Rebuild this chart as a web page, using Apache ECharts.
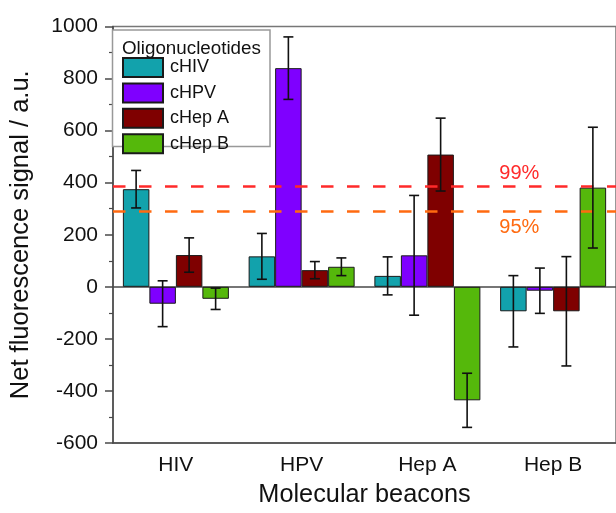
<!DOCTYPE html>
<html>
<head>
<meta charset="utf-8">
<script src="https://cdn.jsdelivr.net/npm/echarts@6/dist/echarts.min.js"></script>
<style>
html,body{margin:0;padding:0;background:#fff;}
#chart{width:616px;height:513px;}
</style>
</head>
<body>
<div id="chart"></div>
<script>
// ---- data ----
var categories = ['HIV', 'HPV', 'Hep A', 'Hep B'];
var seriesNames = ['cHIV', 'cHPV', 'cHep A', 'cHep B'];
var cHIV  = [375, 117, 42, -94];
var cHPV  = [-65, 840, 121, -15];
var cHepA = [122, 64, 508, -94];
var cHepB = [-46, 77, -436, 381];
var errHIV  = [72, 88, 73, 137];
var errHPV  = [88, 120, 230, 87];
var errHepA = [66, 33, 140, 210];
var errHepB = [41, 34, 104, 232];
var thresholdValues = [386, 290];
var thresholdLabels = ['99%', '95%'];
var yTicks = { min: -600, max: 1000, interval: 200 };

// ---- styles ----
var colors = ['#12a2ac', '#7f00ff', '#7f0000', '#55b80b'];
var thresholdColors = ['#ff2a2a', '#ff6a10'];
var FONT = 'Liberation Sans, Arial, sans-serif';
var BAR_W = 26.5;

var values = [cHIV, cHPV, cHepA, cHepB];
var errs = [errHIV, errHPV, errHepA, errHepB];

var series = [];
values.forEach(function (vals, k) {
  var s = {
    name: seriesNames[k],
    type: 'bar',
    xAxisIndex: 0,
    barWidth: BAR_W,
    barGap: '0%',
    data: vals,
    itemStyle: { color: colors[k], borderColor: '#1a1a1a', borderWidth: 1 },
    z: 2
  };
  if (k === 0) {
    s.markLine = {
      silent: true,
      symbol: 'none',
      label: { show: false },
      lineStyle: { type: [12.5, 13.5], width: 2.5 },
      data: thresholdValues.map(function (v, i) {
        return { yAxis: v, lineStyle: { color: thresholdColors[i], type: [12.5, 13.5], width: 2.5 } };
      })
    };
    s.markPoint = {
      silent: true,
      symbol: 'circle',
      symbolSize: 0,
      data: thresholdValues.map(function (v, i) {
        return {
          coord: [3, v],
          label: {
            show: true,
            formatter: thresholdLabels[i],
            position: 'inside',
            offset: [6, i === 0 ? -13 : 16],
            color: thresholdColors[i],
            fontSize: 20,
            fontFamily: FONT
          }
        };
      })
    };
  }
  series.push(s);
});

errs.forEach(function (er, k) {
  series.push({
    type: 'custom',
    xAxisIndex: 0,
    silent: true,
    z: 5,
    data: values[k].map(function (v, i) { return [i, v - er[i], v + er[i]]; }),
    renderItem: function (params, api) {
      var idx = api.value(0);
      var lo = api.coord([idx, api.value(1)]);
      var hi = api.coord([idx, api.value(2)]);
      var x = lo[0] + (k - 1.5) * BAR_W;
      var cap = 5;
      var st = { stroke: '#111', lineWidth: 1.6 };
      return {
        type: 'group',
        children: [
          { type: 'line', shape: { x1: x, y1: lo[1], x2: x, y2: hi[1] }, style: st },
          { type: 'line', shape: { x1: x - cap, y1: lo[1], x2: x + cap, y2: lo[1] }, style: st },
          { type: 'line', shape: { x1: x - cap, y1: hi[1], x2: x + cap, y2: hi[1] }, style: st }
        ]
      };
    }
  });
});

var axisColor = '#4a4a4a';

var option = {
  animation: false,
  backgroundColor: '#fff',
  textStyle: { fontFamily: FONT },
  grid: {
    left: 111, top: 26.5, width: 513.75, height: 418.5,
    show: true, borderColor: '#777', borderWidth: 1.5, backgroundColor: 'transparent'
  },
  title: {
    text: 'Oligonucleotides',
    left: 117, top: 34,
    textStyle: { fontSize: 18.8, fontWeight: 'normal', color: '#111', fontFamily: FONT }
  },
  legend: {
    data: seriesNames,
    orient: 'vertical',
    left: 122, top: 57,
    itemWidth: 40, itemHeight: 19, itemGap: 4.4,
    icon: 'rect',
    padding: 0,
    textStyle: { fontSize: 18, color: '#111', fontFamily: FONT, padding: [0, 0, 0, 2] }
  },
  graphic: [{
    type: 'rect',
    z: 3,
    shape: { x: 112.5, y: 30, width: 157.5, height: 116.5 },
    style: { fill: '#fff', stroke: '#999', lineWidth: 1.5 }
  }],
  xAxis: [{
    type: 'category',
    data: categories,
    position: 'bottom',
    axisLine: { onZero: false, lineStyle: { color: axisColor, width: 1.5 } },
    axisTick: { alignWithLabel: true, length: 8, lineStyle: { color: axisColor, width: 1.5 } },
    axisLabel: { fontSize: 21, color: '#111', margin: 12, fontFamily: FONT },
    name: 'Molecular beacons',
    nameLocation: 'middle',
    nameGap: 40,
    nameTextStyle: { fontSize: 25.3, color: '#111', fontFamily: FONT },
    splitLine: { show: false }
  }, {
    type: 'category',
    data: categories,
    position: 'top',
    axisLine: { onZero: true, lineStyle: { color: axisColor, width: 1.5 } },
    axisTick: { inside: true, length: 5, lineStyle: { color: axisColor, width: 1.2 } },
    axisLabel: { show: false },
    splitLine: { show: false }
  }],
  yAxis: {
    type: 'value',
    min: yTicks.min, max: yTicks.max, interval: yTicks.interval,
    axisLine: { show: true, lineStyle: { color: axisColor, width: 1.5 } },
    axisTick: { show: true, length: 8, lineStyle: { color: axisColor, width: 1.5 } },
    minorTick: { show: true, splitNumber: 2, length: 4, lineStyle: { color: axisColor, width: 1.2 } },
    axisLabel: { fontSize: 21, color: '#111', margin: 15, fontFamily: FONT,
      formatter: function (v) { return String(v); } },
    splitLine: { show: false },
    name: 'Net fluorescence signal / a.u.',
    nameLocation: 'middle',
    nameGap: 79,
    nameTextStyle: { fontSize: 25.5, color: '#111', fontFamily: FONT }
  },
  series: series
};

var chart = echarts.init(document.getElementById('chart'), null, { renderer: 'canvas' });
chart.setOption(option);
</script>
</body>
</html>
